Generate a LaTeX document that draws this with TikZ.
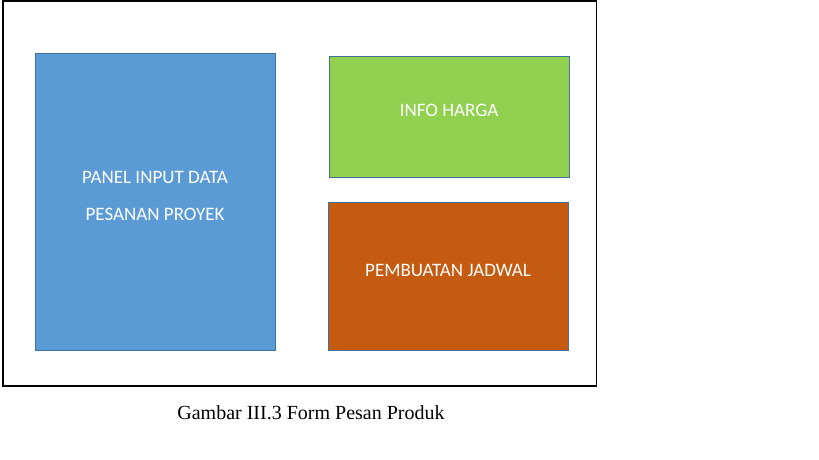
\documentclass[tikz,border=0pt]{standalone}
\usepackage{fontspec}
\setmainfont{Carlito}
\newfontfamily\capfont{Liberation Serif}
\definecolor{boxblue}{HTML}{5B9BD5}
\definecolor{boxgreen}{HTML}{92D050}
\definecolor{boxorange}{HTML}{C55A11}
\definecolor{boxedge}{HTML}{41719C}
\begin{document}
\begin{tikzpicture}[x=1pt,y=-1pt,
  panel/.style={draw=boxedge,line width=1pt},
  lbl/.style={text=white,font=\fontsize{19}{22}\selectfont,inner sep=0pt}]
\useasboundingbox (0,0) rectangle (819,460);
\draw[line width=1.6pt] (3,0.8) rectangle (596.5,385.8);
\path[panel,fill=boxblue] (35,54) rectangle (275,350);
\path[panel,fill=boxgreen] (329,57) rectangle (569,177);
\path[panel,fill=boxorange] (328,202) rectangle (568,350);
\node[lbl] (l1) at (155,177) {PANEL INPUT DATA};
\node[lbl] (l2) at (155,214) {PESANAN PROYEK};
\node[lbl] (l3) at (449,110) {INFO HARGA};
\node[lbl] (l4) at (448,270) {PEMBUATAN JADWAL};
\node[inner sep=0pt,font=\capfont\fontsize{20}{24}\selectfont] (cap) at (311,413) {Gambar III.3 Form Pesan Produk};
\end{tikzpicture}
\end{document}
